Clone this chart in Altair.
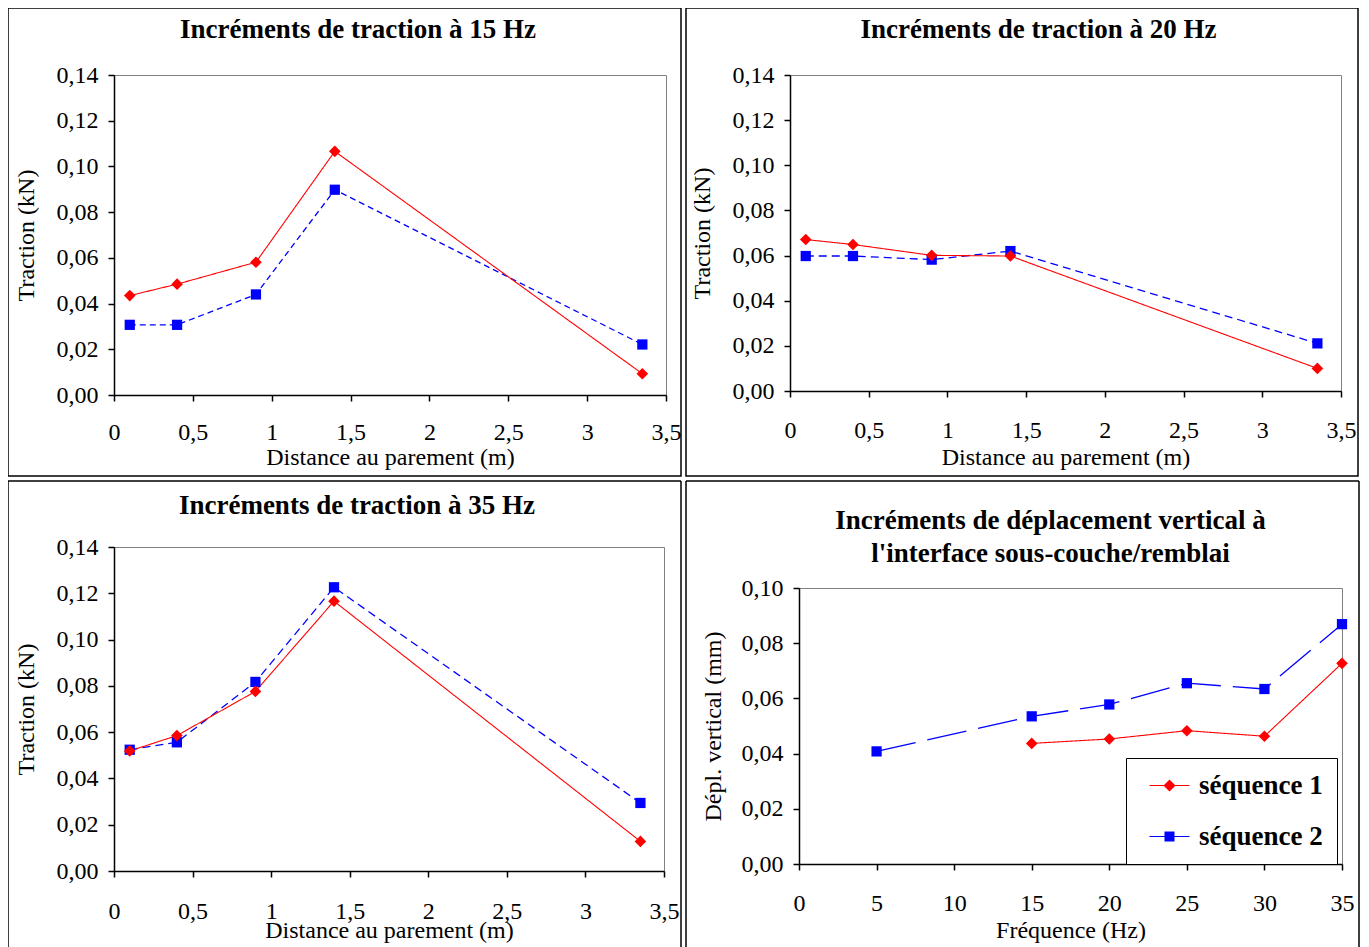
import altair as alt
import pandas as pd

# ---------------- data ----------------
series = ["séquence 1", "séquence 2"]

distances = [0.1, 0.4, 0.9, 1.4, 3.35]
trac15_s1 = [0.0435, 0.0485, 0.0581, 0.1066, 0.0093]
trac15_s2 = [0.0307, 0.0307, 0.0440, 0.0898, 0.0221]
trac20_s1 = [0.0671, 0.0649, 0.0601, 0.0598, 0.0100]
trac20_s2 = [0.0598, 0.0598, 0.0582, 0.0620, 0.0211]
trac35_s1 = [0.0519, 0.0585, 0.0776, 0.1166, 0.0128]
trac35_s2 = [0.0524, 0.0556, 0.0817, 0.1226, 0.0294]

freq_s1 = [15, 20, 25, 30, 35]
depl_s1 = [0.0437, 0.0453, 0.0483, 0.0463, 0.0727]
freq_s2 = [5, 15, 20, 25, 30, 35]
depl_s2 = [0.0408, 0.0535, 0.0578, 0.0655, 0.0634, 0.0869]

dist_ticks = [0, 0.5, 1, 1.5, 2, 2.5, 3, 3.5]
trac_ticks = [0, 0.02, 0.04, 0.06, 0.08, 0.10, 0.12, 0.14]
freq_ticks = [0, 5, 10, 15, 20, 25, 30, 35]
depl_ticks = [0, 0.02, 0.04, 0.06, 0.08, 0.10]

titles = {
    "p1": ["Incréments de traction à 15 Hz"],
    "p2": ["Incréments de traction à 20 Hz"],
    "p3": ["Incréments de traction à 35 Hz"],
    "p4": ["Incréments de déplacement vertical à", "l'interface sous-couche/remblai"],
}
x_title_dist = "Distance au parement (m)"
x_title_freq = "Fréquence (Hz)"
y_title_trac = "Traction (kN)"
y_title_depl = "Dépl. vertical (mm)"

# ---------------- style ----------------
SERIF = "Liberation Serif"
RED = "#ff0000"
BLUE = "#0000ff"
# legend glyphs: a short line with the series marker on it
PATH_S1 = "M-0.4,-0.06H3.6V0.06H-0.4Z M1.6,-0.6L2.2,0L1.6,0.6L1.0,0Z"
PATH_S2 = "M-0.4,-0.06H3.6V0.06H-0.4Z M1.1,-0.5H2.1V0.5H1.1Z"

one = pd.DataFrame({"k": [0]})


def long_df(xs1, ys1, xs2, ys2):
    return pd.DataFrame({
        "x": list(xs1) + list(xs2),
        "y": list(ys1) + list(ys2),
        "serie": [series[0]] * len(xs1) + [series[1]] * len(xs2),
    })


def panel(df, *, width, height, xdomain, xticks, xtitle, ydomain, yticks, ytitle,
          xlab_pad, xtitle_y, ytitle_x, title_lines, title_dx, title_ys,
          frame, closed, dash1, dash2, legend=None):
    xenc = alt.X("x:Q",
                 scale=alt.Scale(domain=xdomain, nice=False, zero=False),
                 axis=alt.Axis(values=xticks, title=xtitle,
                               labelExpr="replace(format(datum.value, '~g'), '.', ',')",
                               tickSize=6, labelPadding=xlab_pad, labelFlush=False,
                               labelOverlap=False, titleY=xtitle_y,
                               titleBaseline="middle"))
    yenc = alt.Y("y:Q",
                 scale=alt.Scale(domain=ydomain, nice=False),
                 axis=alt.Axis(values=yticks, title=ytitle,
                               labelExpr="replace(format(datum.value, '.2f'), '.', ',')",
                               tickSize=6, labelPadding=10, labelFlush=False,
                               titleX=ytitle_x, titleBaseline="middle"))
    x0, x1, y0, y1 = frame
    layers = []
    if closed:
        layers.append(alt.Chart(one).mark_rect(fillOpacity=0, stroke="black", strokeWidth=1.5)
                      .encode(x=alt.value(x0), x2=alt.value(x1), y=alt.value(y0), y2=alt.value(y1)))
    else:
        layers.append(alt.Chart(one).mark_rule(color="black", strokeWidth=1.5)
                      .encode(x=alt.value(x0), y=alt.value(y0), y2=alt.value(y1)))
        layers.append(alt.Chart(one).mark_rule(color="black", strokeWidth=1.5)
                      .encode(x=alt.value(x1), y=alt.value(y0), y2=alt.value(y1)))
        layers.append(alt.Chart(one).mark_rule(color="black", strokeWidth=1.5)
                      .encode(x=alt.value(x0), x2=alt.value(x1), y=alt.value(y0)))
    for line, ty in zip(title_lines, title_ys):
        layers.append(alt.Chart(one).mark_text(font=SERIF, fontSize=27, fontWeight="bold",
                                               color="black", align="center", baseline="middle")
                      .encode(x=alt.value(width / 2 + title_dx), y=alt.value(ty), text=alt.value(line)))
    base = alt.Chart(df)
    s1 = base.transform_filter(alt.datum.serie == series[0])
    s2 = base.transform_filter(alt.datum.serie == series[1])
    layers.append(s2.mark_line(color=BLUE, strokeWidth=1.3, strokeDash=dash2).encode(x=xenc, y=yenc))
    layers.append(s1.mark_line(color=RED, strokeWidth=1.1, strokeDash=dash1).encode(x=xenc, y=yenc))
    layers.append(s2.mark_point(filled=True, shape="square", size=105, color=BLUE, opacity=1)
                  .encode(x=xenc, y=yenc))
    layers.append(s1.mark_point(filled=True, shape="diamond", size=135, color=RED, opacity=1)
                  .encode(x=xenc, y=yenc))
    if legend is not None:
        layers.append(base.transform_filter("false").mark_point(filled=True, opacity=1)
                      .encode(x=xenc, y=yenc,
                              color=alt.Color("serie:N", scale=alt.Scale(domain=series, range=[RED, BLUE]),
                                              legend=legend),
                              shape=alt.Shape("serie:N", scale=alt.Scale(domain=series, range=[PATH_S1, PATH_S2]),
                                              legend=legend)))
    return alt.layer(*layers).properties(width=width, height=height)


legend = alt.Legend(title=None, orient="none", legendX=327, legendY=170,
                    fillColor="white", strokeColor="black",
                    padding=14, rowPadding=23, symbolSize=400, symbolStrokeWidth=0,
                    labelFont=SERIF, labelFontSize=27, labelFontWeight="bold",
                    labelColor="black", labelOffset=32,
                    labelExpr="datum.label + '\u00a0'")

p1 = panel(long_df(distances, trac15_s1, distances, trac15_s2), width=552, height=320,
           xdomain=[0, 3.5], xticks=dist_ticks, xtitle=x_title_dist,
           ydomain=[0, 0.14], yticks=trac_ticks, ytitle=y_title_trac,
           xlab_pad=19, xtitle_y=62, ytitle_x=-88,
           title_lines=titles["p1"], title_dx=-32, title_ys=[-45],
           frame=(-106, 567, -67, 401), closed=True, dash1=[1, 0], dash2=[6, 4])

p2 = panel(long_df(distances, trac20_s1, distances, trac20_s2), width=551, height=316,
           xdomain=[0, 3.5], xticks=dist_ticks, xtitle=x_title_dist,
           ydomain=[0, 0.14], yticks=trac_ticks, ytitle=y_title_trac,
           xlab_pad=21, xtitle_y=66, ytitle_x=-88,
           title_lines=titles["p2"], title_dx=-27, title_ys=[-45],
           frame=(-104, 568, -67, 401), closed=True, dash1=[1, 0], dash2=[8, 5])

p3 = panel(long_df(distances, trac35_s1, distances, trac35_s2), width=550, height=324,
           xdomain=[0, 3.5], xticks=dist_ticks, xtitle=x_title_dist,
           ydomain=[0, 0.14], yticks=trac_ticks, ytitle=y_title_trac,
           xlab_pad=22, xtitle_y=59, ytitle_x=-88,
           title_lines=titles["p3"], title_dx=-32, title_ys=[-41],
           frame=(-106, 567, -66, 405), closed=False, dash1=[1, 0], dash2=[8, 5])

p4 = panel(long_df(freq_s1, depl_s1, freq_s2, depl_s2), width=543, height=276,
           xdomain=[0, 35], xticks=freq_ticks, xtitle=x_title_freq,
           ydomain=[0, 0.10], yticks=depl_ticks, ytitle=y_title_depl,
           xlab_pad=21, xtitle_y=66, ytitle_x=-86,
           title_lines=titles["p4"], title_dx=-20, title_ys=[-67, -34],
           frame=(-113, 560, -107, 364), closed=False, dash1=[1, 0], dash2=[40, 12],
           legend=legend)

chart = alt.concat(p1, p2, p3, p4, columns=2, spacing=1).properties(
    align="none", padding={"left": -2, "top": -2, "right": 0, "bottom": 0}
).resolve_scale(color="independent", shape="independent").configure(
    background="white"
).configure_view(
    stroke="#808080", strokeWidth=1
).configure_axis(
    domainColor="black", domainWidth=1.5, tickColor="black", tickWidth=1.5,
    labelColor="black", titleColor="black", labelFont=SERIF, titleFont=SERIF,
    labelFontSize=24, titleFontSize=24, titleFontWeight="normal", grid=False,
).configure_legend(strokeWidth=1)

chart.save("out.html", embed_options={"renderer": "svg", "actions": False})
